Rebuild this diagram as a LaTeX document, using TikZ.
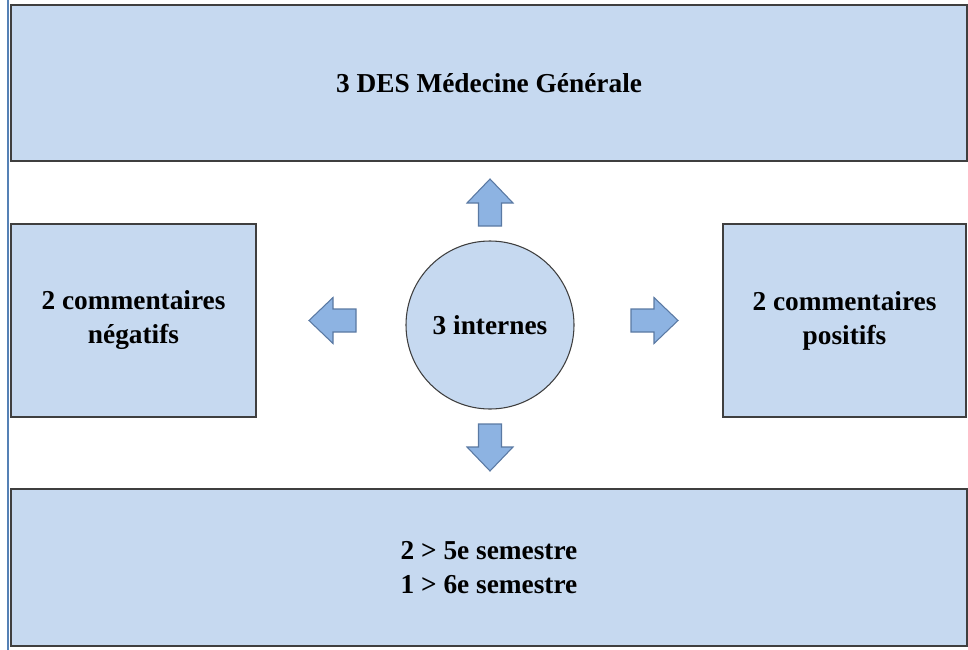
\documentclass[tikz,border=0pt]{standalone}
\usepackage{fontspec}
\setmainfont{Liberation Serif}

\definecolor{boxfill}{HTML}{C6D9F0}
\definecolor{boxline}{HTML}{3F3F3F}
\definecolor{arrowfill}{HTML}{8DB3E2}
\definecolor{arrowline}{HTML}{5A79A3}
\definecolor{sidebar}{HTML}{5581B5}

\tikzset{
  box/.style={draw=boxline, line width=1.2pt, fill=boxfill, inner sep=0pt, align=center,
    font=\bfseries\fontsize{20.5}{25.5}\selectfont},
  blockarrow/.style={draw=arrowline, line width=0.8pt, fill=arrowfill, line join=miter},
}

% block arrow: #1 = base point, #2 = direction angle
\newcommand{\fleche}[2]{%
  \draw[blockarrow, shift={#1}, rotate=#2]
    (0,-11.5) -- (23,-11.5) -- (23,-23) -- (47,0) -- (23,23) -- (23,11.5) -- (0,11.5) -- cycle;}

\begin{document}
\begin{tikzpicture}[x=0.75pt, y=-0.75pt]
  \useasboundingbox (0,0) rectangle (968,650);

  % Randlinie
  \draw[sidebar, line width=1.2pt] (8,0) -- (8,650);

  % Kaesten
  \node[box, minimum width=717pt, minimum height=117pt] (des) at (489,83) {3 DES Médecine Générale};
  \node[box, minimum width=183.75pt, minimum height=144.75pt] (neg) at (133.5,320.5) {2 commentaires\\négatifs};
  \node[box, minimum width=182.25pt, minimum height=144.75pt] (pos) at (844.5,320.5) {2 commentaires\\positifs};
  \node[box, minimum width=717pt, minimum height=117.75pt] (sem) at (489,567.5) {2 > 5e semestre\\1 > 6e semestre};

  % Mitte
  \node[box, circle, line width=0.8pt, minimum size=126pt] (internes) at (490,325) {3 internes};

  % Pfeile
  \fleche{(490,226)}{90}
  \fleche{(490,424)}{-90}
  \fleche{(356,320.5)}{180}
  \fleche{(631,320.5)}{0}

\end{tikzpicture}
\end{document}
